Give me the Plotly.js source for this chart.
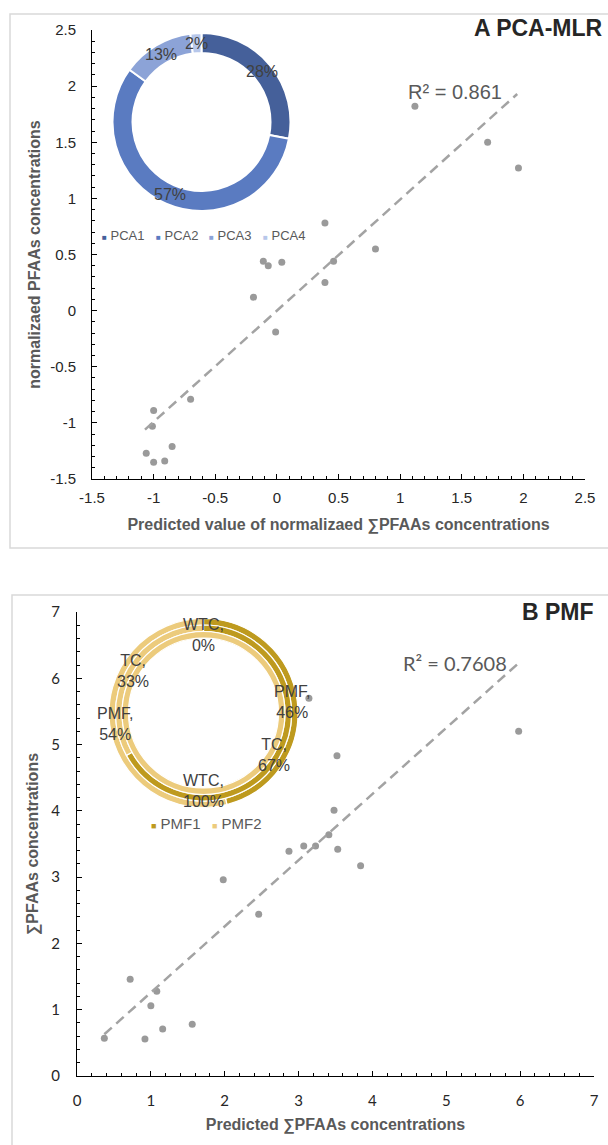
<!DOCTYPE html>
<html><head><meta charset="utf-8">
<script src="https://cdn.plot.ly/plotly-3.0.1.min.js"></script>
<style>html,body{margin:0;padding:0;background:#fff;}#chart{width:608px;height:1145px;}</style>
</head><body><div id="chart"></div>
<script>
// ---------- Panel A: PCA-MLR ----------
const pcaX = [1.12, 1.71, 1.96, 0.39, 0.80, 0.46, 0.39, -0.11, -0.07, 0.04, -0.19, -0.01, -0.70, -1.00, -1.01, -0.85, -1.06, -1.00, -0.91];
const pcaY = [1.82, 1.50, 1.27, 0.78, 0.55, 0.44, 0.25, 0.44, 0.40, 0.43, 0.12, -0.19, -0.79, -0.89, -1.03, -1.21, -1.27, -1.35, -1.34];
const pcaTrendX = [-1.07, 1.95];
const pcaTrendY = [-1.06, 1.93];
const pcaR2 = 'R² = 0.861';
const pcaLabels = ['PCA1', 'PCA2', 'PCA3', 'PCA4'];
const pcaShares = [28, 57, 13, 2];
const aTickVals = [-1.5, -1, -0.5, 0, 0.5, 1, 1.5, 2, 2.5];
const aTickText = ['-1.5', '-1', '-0.5', '0', '0.5', '1', '1.5', '2', '2.5'];

// ---------- Panel B: PMF ----------
const pmfX = [0.37, 0.72, 1.08, 1.00, 0.92, 1.16, 1.56, 1.98, 2.46, 2.87, 3.07, 3.23, 3.41, 3.53, 3.48, 3.52, 3.84, 3.14, 5.98];
const pmfY = [0.57, 1.46, 1.28, 1.06, 0.56, 0.71, 0.78, 2.96, 2.44, 3.39, 3.47, 3.47, 3.64, 3.42, 4.01, 4.83, 3.17, 5.70, 5.20];
const pmfTrendX = [0.37, 5.98];
const pmfTrendY = [0.63, 6.23];
const pmfR2 = 'R² = 0.7608';
const factorLabels = ['PMF1', 'PMF2'];
const ringNames = ['PMF', 'TC', 'WTC'];
const ringPMF = [46, 54];
const ringTC = [67, 33];
const ringWTC = [0, 100];
const bTickVals = [0, 1, 2, 3, 4, 5, 6, 7];
const bTickText = ['0', '1', '2', '3', '4', '5', '6', '7'];

// ---------- styling / layout helpers ----------
const W = 608, H = 1145;
const px = x => x / W;
const py = y => 1 - y / H;
const ARIAL = 'Arial, "Liberation Sans", sans-serif';
const CALI = 'Lato, "Open Sans", sans-serif';
const pcaColors = ['#45609A', '#5A7BC1', '#8CA3D7', '#B7C7EA'];
const pmfColors = ['#BE9A1E', '#ECCB7C'];
const ptColor = '#9A9A9A';
const lineColor = '#A3A3A3';

function donutDomain(cx, cy, r) {
  return {x: [px(cx - r), px(cx + r)], y: [py(cy + r), py(cy - r)]};
}
function sliceLabelPos(vals, cx, cy, r) {
  const tot = vals.reduce((a, b) => a + b, 0);
  let cum = 0;
  return vals.map(v => {
    const mid = (cum + v / 2) / tot;
    cum += v;
    const th = mid * 2 * Math.PI;
    return [cx + r * Math.sin(th), cy - r * Math.cos(th)];
  });
}
function note(x, y, text, font, xanchor) {
  return {xref: 'paper', yref: 'paper', x: px(x), y: py(y), showarrow: false, text: text, font: font,
    xanchor: xanchor || 'center', yanchor: 'middle'};
}

const traces = [];
const annotations = [];

// Panel A scatter + trend
traces.push({type: 'scatter', mode: 'markers', x: pcaX, y: pcaY, xaxis: 'x', yaxis: 'y',
  marker: {color: ptColor, size: 7}, showlegend: false, hoverinfo: 'x+y'});
traces.push({type: 'scatter', mode: 'lines', x: pcaTrendX, y: pcaTrendY, xaxis: 'x', yaxis: 'y',
  line: {color: lineColor, width: 2.5, dash: '10px,6px'}, showlegend: false, hoverinfo: 'skip'});

// Panel A donut
const aC = [201.5, 122], aR = 89, aHole = 69;
traces.push({type: 'pie', labels: pcaLabels, values: pcaShares, sort: false, direction: 'clockwise',
  rotation: 0, hole: aHole / aR, domain: donutDomain(aC[0], aC[1], aR), textinfo: 'none',
  marker: {colors: pcaColors, line: {color: '#ffffff', width: 2}}, showlegend: false});
sliceLabelPos(pcaShares, aC[0], aC[1], (aR + aHole) / 2).forEach((p, i) => {
  annotations.push(note(p[0], p[1], pcaShares[i] + '%', {family: ARIAL, size: 16, color: '#404040'}));
});
// Panel A legend
pcaLabels.forEach((lab, i) => {
  annotations.push(note(100 + i * 53.5, 235,
    '<span style="color:' + pcaColors[i] + ';font-size:8px">■</span> ' + lab,
    {family: ARIAL, size: 13, color: '#595959'}, 'left'));
});

// Panel B scatter + trend
traces.push({type: 'scatter', mode: 'markers', x: pmfX, y: pmfY, xaxis: 'x2', yaxis: 'y2',
  marker: {color: ptColor, size: 7}, showlegend: false, hoverinfo: 'x+y'});
traces.push({type: 'scatter', mode: 'lines', x: pmfTrendX, y: pmfTrendY, xaxis: 'x2', yaxis: 'y2',
  line: {color: lineColor, width: 2.5, dash: '10px,6px'}, showlegend: false, hoverinfo: 'skip'});

// Panel B multi-ring donut (outer -> inner: PMF, TC, WTC)
const bC = [203.5, 713];
const rings = [ringPMF, ringTC, ringWTC];
const ringOuter = [94.5, 88, 81.5];
const ringInner = [88, 81.5, 75];
const ringLabelR = [89, 82, 78];
rings.forEach((vals, k) => {
  traces.push({type: 'pie', name: ringNames[k], labels: factorLabels, values: vals, sort: false,
    direction: 'clockwise', rotation: 0, hole: ringInner[k] / ringOuter[k],
    domain: donutDomain(bC[0], bC[1], ringOuter[k]), textinfo: 'none',
    marker: {colors: pmfColors, line: {color: '#ffffff', width: 1.2}}, showlegend: false});
  sliceLabelPos(vals, bC[0], bC[1], ringLabelR[k]).forEach((p, i) => {
    annotations.push(note(p[0], p[1], ringNames[k] + ',<br>' + vals[i] + '%',
      {family: ARIAL, size: 16, color: '#404040'}));
  });
});
// Panel B legend
factorLabels.forEach((lab, i) => {
  annotations.push(note(149 + i * 61, 823,
    '<span style="color:' + pmfColors[i] + ';font-size:9px">■</span> ' + lab,
    {family: ARIAL, size: 15, color: '#595959'}, 'left'));
});

// R² labels and panel titles
annotations.push(note(455, 92, pcaR2, {family: ARIAL, size: 20, color: '#595959'}));
annotations.push(note(455, 663, pmfR2, {family: CALI, size: 20, color: '#595959'}));
annotations.push(note(605, 28, 'A PCA-MLR', {family: ARIAL, size: 23, weight: 700, color: '#262626'}, 'right'));
annotations.push(note(596, 612, 'B PMF', {family: ARIAL, size: 23, weight: 700, color: '#262626'}, 'right'));

function axisBase(extra) {
  return Object.assign({
    showgrid: false, zeroline: false, showline: true, linecolor: '#000', linewidth: 1,
    ticks: 'inside', ticklen: 5, tickcolor: '#000', tickwidth: 1, automargin: false,
    tickmode: 'array', fixedrange: true
  }, extra);
}
const titleFont = {family: ARIAL, size: 16, weight: 700, color: '#595959'};

const layout = {
  width: W, height: H, margin: {l: 0, r: 0, t: 0, b: 0}, paper_bgcolor: '#fff', plot_bgcolor: '#fff',
  showlegend: false,
  xaxis: axisBase({domain: [px(92), px(585)], range: [-1.5, 2.5], anchor: 'y',
    tickvals: aTickVals, ticktext: aTickText,
    minor: {ticks: 'inside', ticklen: 3, tickcolor: '#000', tickmode: 'linear', tick0: -1.5, dtick: 0.1},
    tickfont: {family: ARIAL, size: 15, color: '#262626'}, ticklabelstandoff: 5,
    title: {text: 'Predicted value of normalizaed ∑PFAAs concentrations', font: titleFont, standoff: 13}}),
  yaxis: axisBase({domain: [py(479), py(30)], range: [-1.5, 2.5], anchor: 'x',
    tickvals: aTickVals, ticktext: aTickText,
    minor: {ticks: 'inside', ticklen: 3, tickcolor: '#000', tickmode: 'linear', tick0: -1.5, dtick: 0.1},
    tickfont: {family: ARIAL, size: 15, color: '#262626'}, ticklabelstandoff: 12,
    title: {text: 'normalizaed PFAAs concentrations', font: titleFont, standoff: 5}}),
  xaxis2: axisBase({domain: [px(77), px(594)], range: [0, 7], anchor: 'y2',
    tickvals: bTickVals, ticktext: bTickText,
    minor: {ticks: 'inside', ticklen: 3, tickcolor: '#000', tickmode: 'linear', tick0: 0, dtick: 0.2},
    tickfont: {family: CALI, size: 15, color: '#262626'}, ticklabelstandoff: 11,
    title: {text: 'Predicted ∑PFAAs concentrations', font: titleFont, standoff: 10}}),
  yaxis2: axisBase({domain: [py(1076), py(612)], range: [0, 7], anchor: 'x2',
    tickvals: bTickVals, ticktext: bTickText,
    minor: {ticks: 'inside', ticklen: 3, tickcolor: '#000', tickmode: 'linear', tick0: 0, dtick: 0.2},
    tickfont: {family: CALI, size: 15, color: '#262626'}, ticklabelstandoff: 13,
    title: {text: '∑PFAAs concentrations', font: titleFont, standoff: 8}}),
  shapes: [
    {type: 'rect', xref: 'paper', yref: 'paper', x0: px(10), x1: px(615), y0: py(548), y1: py(14),
      line: {color: '#D9D9D9', width: 1.5}, fillcolor: 'rgba(0,0,0,0)', layer: 'below'},
    {type: 'rect', xref: 'paper', yref: 'paper', x0: px(12), x1: px(615), y0: py(1152), y1: py(595),
      line: {color: '#D9D9D9', width: 1.5}, fillcolor: 'rgba(0,0,0,0)', layer: 'below'}
  ],
  annotations: annotations
};

Plotly.newPlot('chart', traces, layout, {displayModeBar: false, staticPlot: true});
</script>
</body></html>
